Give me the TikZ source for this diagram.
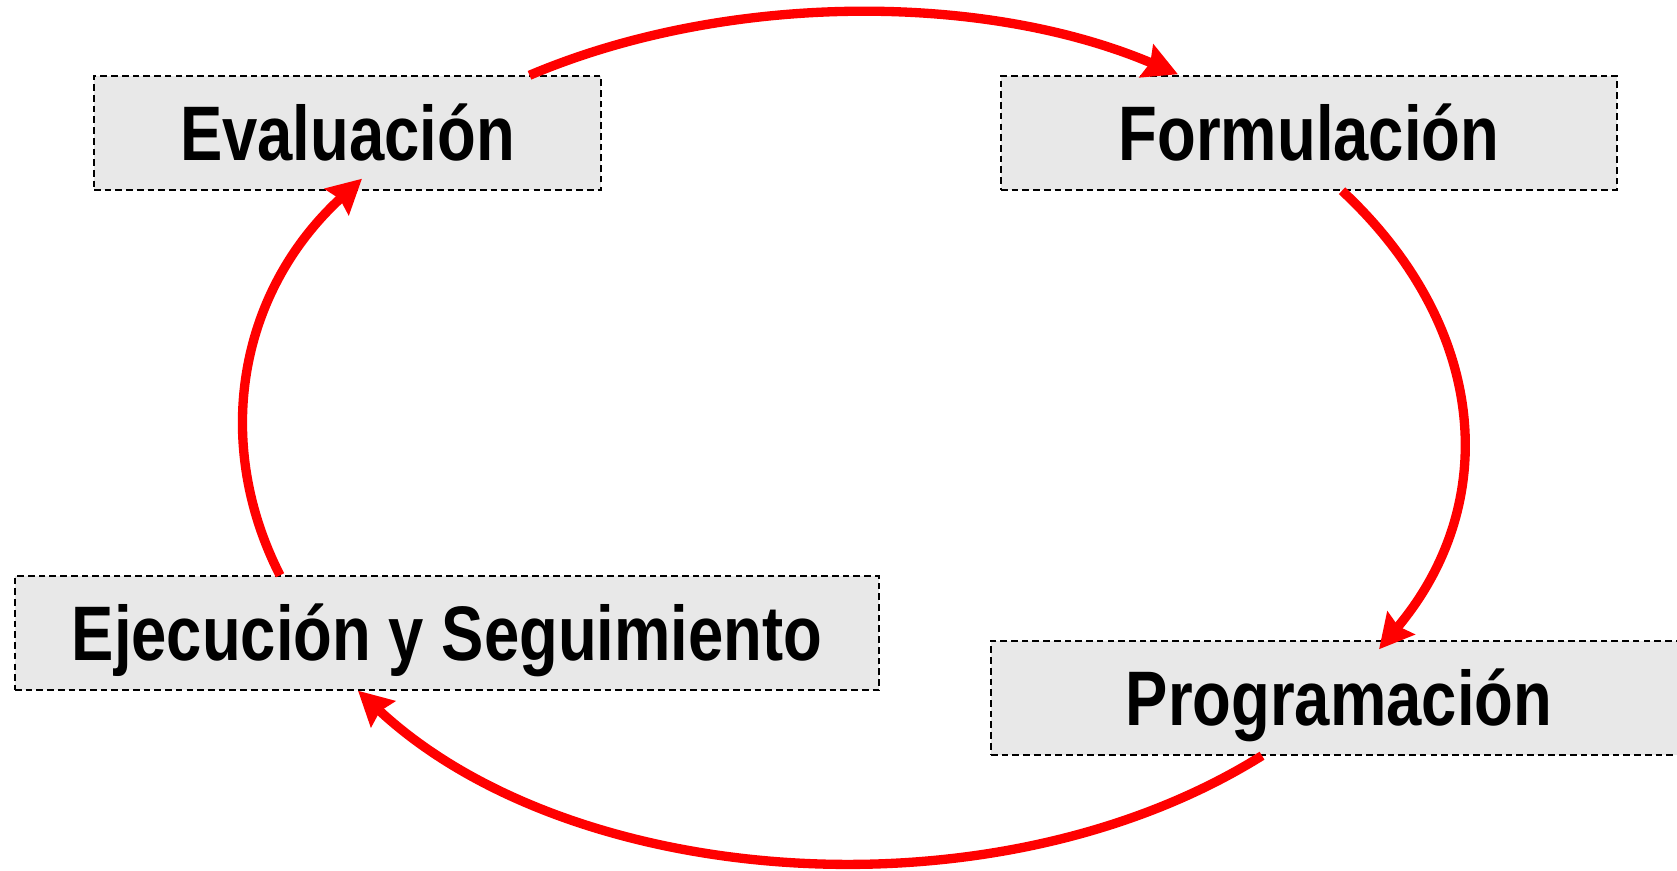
\documentclass[tikz,border=0pt]{standalone}
\usepackage{fontspec}
\setmainfont{Liberation Sans}[FakeStretch=0.82]
\usetikzlibrary{arrows.meta}
\usetikzlibrary{calc}

\definecolor{fasegray}{HTML}{E8E8E8}

\begin{document}
\begin{tikzpicture}
\tikzstyle{fase}=[draw=black,line width=0.8pt,dash pattern=on 3.8pt off 2.3pt,fill=fasegray,minimum height=2.28cm,inner sep=0pt,text height=31.5pt,text depth=0pt,font=\fontsize{44pt}{48pt}\selectfont\bfseries]
\tikzstyle{ciclo}=[draw=red,line width=5.3pt,-{Stealth[length=0.68cm,width=0.7cm,inset=0.08cm]}]
\useasboundingbox (0,0) rectangle (33.54,17.4);
\node[fase,minimum width=10.14cm] (eval) at (6.95,14.74) {Evaluación};
\node[fase,minimum width=12.32cm] (form) at (26.18,14.74) {Formulación};
\node[fase,minimum width=17.28cm] (ejec) at (8.94,4.74) {Ejecución y Seguimiento};
\node[fase,minimum width=13.92cm] (prog) at (26.78,3.44) {Programación};
\draw[ciclo] ($(eval.north)+(3.64,0)$) .. controls +(23:4.24) and +(157:4.24) .. ($(form.north)+(-2.62,0.02)$);
\draw[ciclo] ($(form.south)+(0.66,0)$) .. controls +(-43:3.98) and +(50:3.83) .. ($(prog.north)+(0.8,-0.18)$);
\draw[ciclo] ($(prog.south)+(-1.54,0)$) .. controls +(-148:6.29) and +(-43:5.84) .. ($(ejec.south)+(-1.78,0)$);
\draw[ciclo] ($(ejec.north)+(-3.34,0)$) .. controls +(117:3.0) and +(-137.5:3.34) .. ($(eval.south)+(0.29,0.24)$);
\end{tikzpicture}
\end{document}
